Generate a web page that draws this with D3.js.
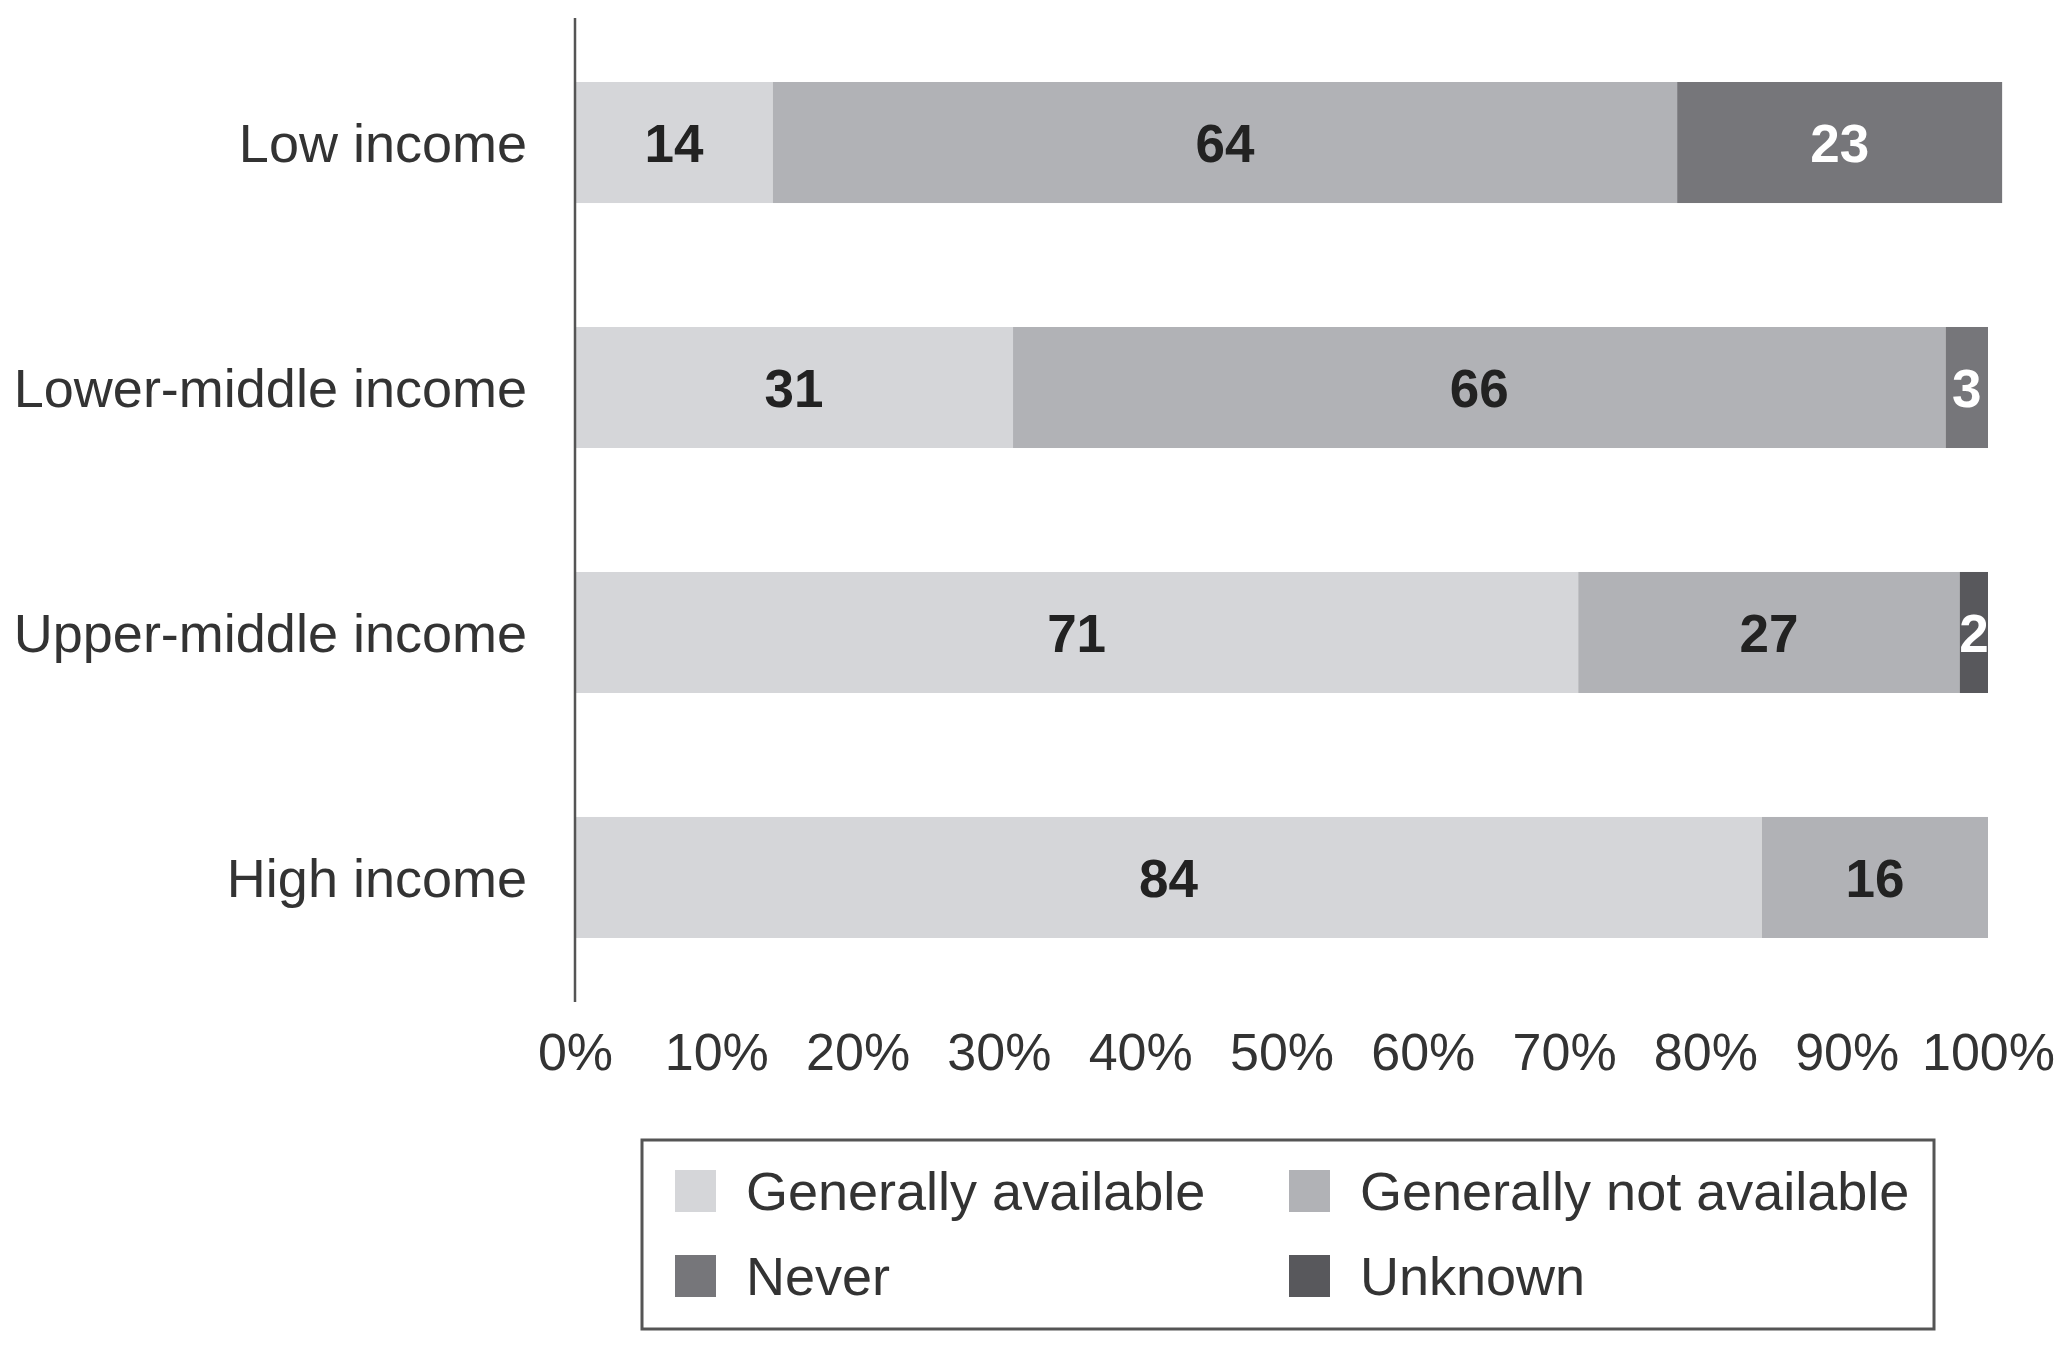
<!DOCTYPE html>
<html>
<head>
<meta charset="utf-8">
<script src="https://cdn.jsdelivr.net/npm/d3@7"></script>
<style>
  body { margin: 0; background: #fff; }
  svg { display: block; font-family: "Liberation Sans", Arial, sans-serif; }
  .cat { font-size: 54px; fill: #333; }
  .tick text { font-size: 52px; fill: #333; }
  .val { font-size: 53px; font-weight: bold; }
  .leg { font-size: 54px; fill: #333; }
</style>
</head>
<body>
<svg id="chart" width="2067" height="1360"></svg>
<script>
  var categories = ["Low income", "Lower-middle income", "Upper-middle income", "High income"];
  var generallyAvailable = [14, 31, 71, 84];
  var generallyNotAvailable = [64, 66, 27, 16];
  var never = [23, 3, 0, 0];
  var unknown = [0, 0, 2, 0];
  var tickValues = [0, 10, 20, 30, 40, 50, 60, 70, 80, 90, 100];

  var seriesNames = ["Generally available", "Generally not available", "Never", "Unknown"];
  var seriesKeys = ["avail", "notAvail", "never", "unknown"];
  var colors = ["#d5d6d9", "#b1b2b6", "#76767a", "#58585c"];
  var labelColors = ["#222", "#222", "#fff", "#fff"];

  // table for d3.stack
  var rows = categories.map(function(c, i) {
    return { cat: c, avail: generallyAvailable[i], notAvail: generallyNotAvailable[i],
             never: never[i], unknown: unknown[i] };
  });

  var svg = d3.select("#chart");

  var x = d3.scaleLinear().domain([0, 100]).range([575, 1988]);
  var y = d3.scaleBand().domain(categories).range([82, 938])
      .paddingInner(0.506).paddingOuter(0);

  var stacked = d3.stack().keys(seriesKeys)(rows);

  var layers = svg.append("g").selectAll("g")
    .data(stacked)
    .join("g")
      .attr("fill", function(d, i) { return colors[i]; });

  layers.selectAll("rect")
    .data(function(d) { return d; })
    .join("rect")
      .attr("x", function(d) { return x(d[0]); })
      .attr("y", function(d) { return y(d.data.cat); })
      .attr("width", function(d) { return x(d[1]) - x(d[0]); })
      .attr("height", y.bandwidth());

  // value labels
  stacked.forEach(function(s, si) {
    svg.append("g").selectAll("text")
      .data(s.filter(function(d) { return d[1] - d[0] > 0; }))
      .join("text")
        .attr("class", "val")
        .attr("x", function(d) { return (x(d[0]) + x(d[1])) / 2; })
        .attr("y", function(d) { return y(d.data.cat) + y.bandwidth() / 2; })
        .attr("dy", "0.36em")
        .attr("text-anchor", "middle")
        .attr("fill", labelColors[si])
        .text(function(d) { return d[1] - d[0]; });
  });

  // vertical axis line
  svg.append("line")
    .attr("x1", x(0)).attr("x2", x(0))
    .attr("y1", 18).attr("y2", 1002)
    .attr("stroke", "#555").attr("stroke-width", 2.5);

  // category labels
  svg.append("g").selectAll("text")
    .data(categories)
    .join("text")
      .attr("class", "cat")
      .attr("x", 527)
      .attr("y", function(d) { return y(d) + y.bandwidth() / 2; })
      .attr("dy", "0.36em")
      .attr("text-anchor", "end")
      .text(function(d) { return d; });

  // x axis ticks (labels only)
  var xAxis = svg.append("g")
    .attr("transform", "translate(0,1033)")
    .call(d3.axisBottom(x).tickValues(tickValues).tickSize(0).tickPadding(0)
      .tickFormat(function(d) { return d + "%"; }));
  xAxis.select(".domain").remove();
  xAxis.selectAll("text").attr("dy", "0.72em").style("font-family", null);

  // legend
  var legend = svg.append("g");
  legend.append("rect")
    .attr("x", 642).attr("y", 1140).attr("width", 1292).attr("height", 189)
    .attr("fill", "#fff").attr("stroke", "#555").attr("stroke-width", 3);

  var legX = [675, 1289];
  var legY = [1191, 1276];
  var items = legend.selectAll("g.item")
    .data(seriesNames)
    .join("g")
      .attr("class", "item")
      .attr("transform", function(d, i) {
        return "translate(" + legX[i % 2] + "," + legY[Math.floor(i / 2)] + ")";
      });
  items.append("rect")
    .attr("x", 0).attr("y", -21).attr("width", 41).attr("height", 42)
    .attr("fill", function(d, i) { return colors[i]; });
  items.append("text")
    .attr("class", "leg")
    .attr("x", 71)
    .attr("dy", "0.36em")
    .text(function(d) { return d; });
</script>
</body>
</html>
